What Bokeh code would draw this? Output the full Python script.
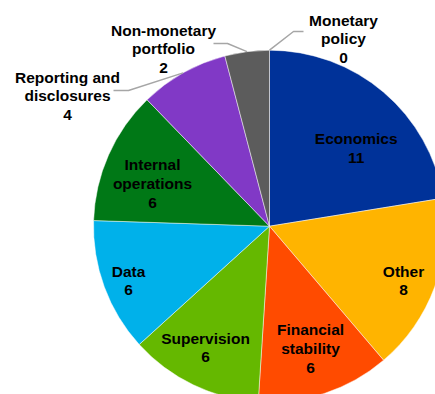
import math
from bokeh.plotting import figure
from bokeh.models import Range1d, ColumnDataSource
from bokeh.core.properties import value
from bokeh.embed import file_html
from bokeh.resources import INLINE

# ---- data ----
categories = ["Economics", "Other", "Financial stability", "Supervision", "Data",
              "Internal operations", "Reporting and disclosures",
              "Non-monetary portfolio", "Monetary policy"]
counts = [11, 8, 6, 6, 6, 6, 4, 2, 0]
label_texts = ["Economics\n11", "Other\n8", "Financial\nstability\n6", "Supervision\n6",
               "Data\n6", "Internal\noperations\n6", "Reporting and\ndisclosures\n4",
               "Non-monetary\nportfolio\n2", "Monetary\npolicy\n0"]
colors = ["#003299", "#FFB400", "#FF4B00", "#65B800", "#00B1EA",
          "#007816", "#8139C6", "#5C5C5C", "#A0A0A0"]

# ---- layout (page pixels) ----
W, H = 435, 394
CX, CY = 269, H - 225.7     # pie centre in figure units (1 unit = 1 px)
R = 176
# label block centres (image px)
label_pos = [(355.7, 147.5), (403, 280), (310, 348), (205, 347), (128, 280),
             (152, 183), (67, 95.5), (163, 48.5), (343, 38.5)]
# leader-line elbows for outside labels (image px): index -> [elbow, end]
leaders = {8: [(293, 31), (303, 31)], 7: [(227, 43), (213, 43)], 6: [(128, 90), (113, 90)]}

total = float(sum(counts))
starts, ends, mids = [], [], []
cum = 0.0
for c in counts:
    a0 = math.pi / 2 - cum / total * 2 * math.pi
    cum += c
    a1 = math.pi / 2 - cum / total * 2 * math.pi
    starts.append(a0); ends.append(a1); mids.append((a0 + a1) / 2)

p = figure(width=W, height=H, output_backend="svg", toolbar_location=None,
           x_range=Range1d(0, W), y_range=Range1d(0, H), min_border=0)
p.axis.visible = False
p.grid.visible = False
p.outline_line_color = None
p.background_fill_color = "white"
p.border_fill_color = "white"

idx = [i for i, c in enumerate(counts) if c > 0]
src = ColumnDataSource(dict(
    x=[CX] * len(idx), y=[CY] * len(idx),
    start=[starts[i] for i in idx], end=[ends[i] for i in idx],
    color=[colors[i] for i in idx]))
p.wedge(x="x", y="y", radius=R, radius_units="screen", start_angle="start", end_angle="end",
        direction="clock", fill_color="color", line_color="white", line_width=0.6,
        line_alpha=0.8, source=src)

# leader lines
for i, pts in leaders.items():
    sx = CX + R * math.cos(mids[i])
    sy = CY + R * math.sin(mids[i])
    xs = [sx] + [x for x, _ in pts]
    ys = [sy] + [H - y for _, y in pts]
    p.line(xs, ys, line_color="#A6A6A6", line_width=1.5)

lsrc = ColumnDataSource(dict(
    x=[x for x, _ in label_pos], y=[H - y for _, y in label_pos], t=label_texts))
p.text(x="x", y="y", text="t", source=lsrc, text_align="center", text_baseline="middle",
       text_font=value("Liberation Sans"), text_font_style="bold", text_font_size="15.5px",
       text_color="black", text_line_height=1.1)

open("out.html", "w").write(file_html(p, INLINE))
